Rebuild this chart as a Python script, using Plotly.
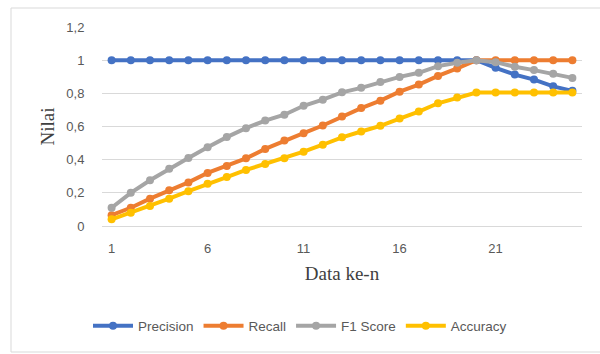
import plotly.graph_objects as go

x = list(range(1, 26))
precision = [1.0]*20 + [0.954, 0.913, 0.883, 0.842, 0.815]
recall = [0.065, 0.11, 0.165, 0.215, 0.263, 0.32, 0.362, 0.408, 0.465, 0.515,
          0.56, 0.606, 0.661, 0.711, 0.756, 0.81, 0.853, 0.905, 0.95, 1.0,
          1.0, 1.0, 1.0, 1.0, 1.0]
f1 = [0.11, 0.2, 0.276, 0.345, 0.41, 0.475, 0.536, 0.59, 0.636, 0.671,
      0.725, 0.762, 0.806, 0.833, 0.869, 0.899, 0.924, 0.964, 0.984, 1.0,
      0.988, 0.96, 0.94, 0.918, 0.893]
accuracy = [0.04, 0.08, 0.12, 0.165, 0.21, 0.255, 0.295, 0.338, 0.374, 0.408,
            0.448, 0.49, 0.535, 0.57, 0.604, 0.648, 0.69, 0.74, 0.775, 0.805,
            0.805, 0.805, 0.805, 0.805, 0.805]

series = [("Precision", precision, "#4472C4"),
          ("Recall", recall, "#ED7D31"),
          ("F1 Score", f1, "#A5A5A5"),
          ("Accuracy", accuracy, "#FFC000")]

fig = go.Figure()
for name, vals, col in series:
    fig.add_trace(go.Scatter(x=x, y=vals, name=name, mode="lines+markers",
                             line=dict(color=col, width=4),
                             marker=dict(color=col, size=8)))

W, H = 600, 354
L, R, T, B = 102, 18, 27, 128
pw = W - L - R
ph = H - T - B

def px(xp):
    return (xp - L) / pw

def py(yp):
    return (H - B - yp) / ph

fig.add_shape(type="rect", xref="paper", yref="paper",
              x0=px(11), x1=px(640), y0=py(352), y1=py(8),
              line=dict(color="#D9D9D9", width=1), layer="below")

fig.update_layout(
    width=W, height=H,
    margin=dict(l=L, r=R, t=T, b=B),
    paper_bgcolor="white", plot_bgcolor="white",
    separators=", ",
    font=dict(family="Liberation Sans", size=12, color="#595959"),
    xaxis=dict(range=[0.5, 25.5], tickvals=[1, 6, 11, 16, 21],
               showgrid=False, zeroline=False, showline=False,
               ticks="outside", ticklen=10, tickcolor="rgba(0,0,0,0)",
               tickfont=dict(size=13, color="#595959"),
               title=dict(text="Data ke-n", standoff=12,
                          font=dict(family="Liberation Serif", size=19, color="#404040"))),
    yaxis=dict(range=[0, 1.2], tickvals=[0, 0.2, 0.4, 0.6, 0.8, 1, 1.2],
               ticktext=["0", "0,2", "0,4", "0,6", "0,8", "1", "1,2"],
               showgrid=True, gridcolor="#D9D9D9", gridwidth=1,
               zeroline=True, zerolinecolor="#D9D9D9", zerolinewidth=1,
               showline=False,
               ticks="outside", ticklen=14, tickcolor="rgba(0,0,0,0)",
               tickfont=dict(size=13, color="#595959"),
               title=dict(text="Nilai", standoff=6,
                          font=dict(family="Liberation Serif", size=19, color="#404040"))),
    legend=dict(orientation="h", x=px(300), xanchor="center", y=py(326), yanchor="middle",
                font=dict(size=13.5, color="#595959"), itemwidth=40,
                bgcolor="rgba(0,0,0,0)"),
    showlegend=True,
)

fig.write_html("out.html")
